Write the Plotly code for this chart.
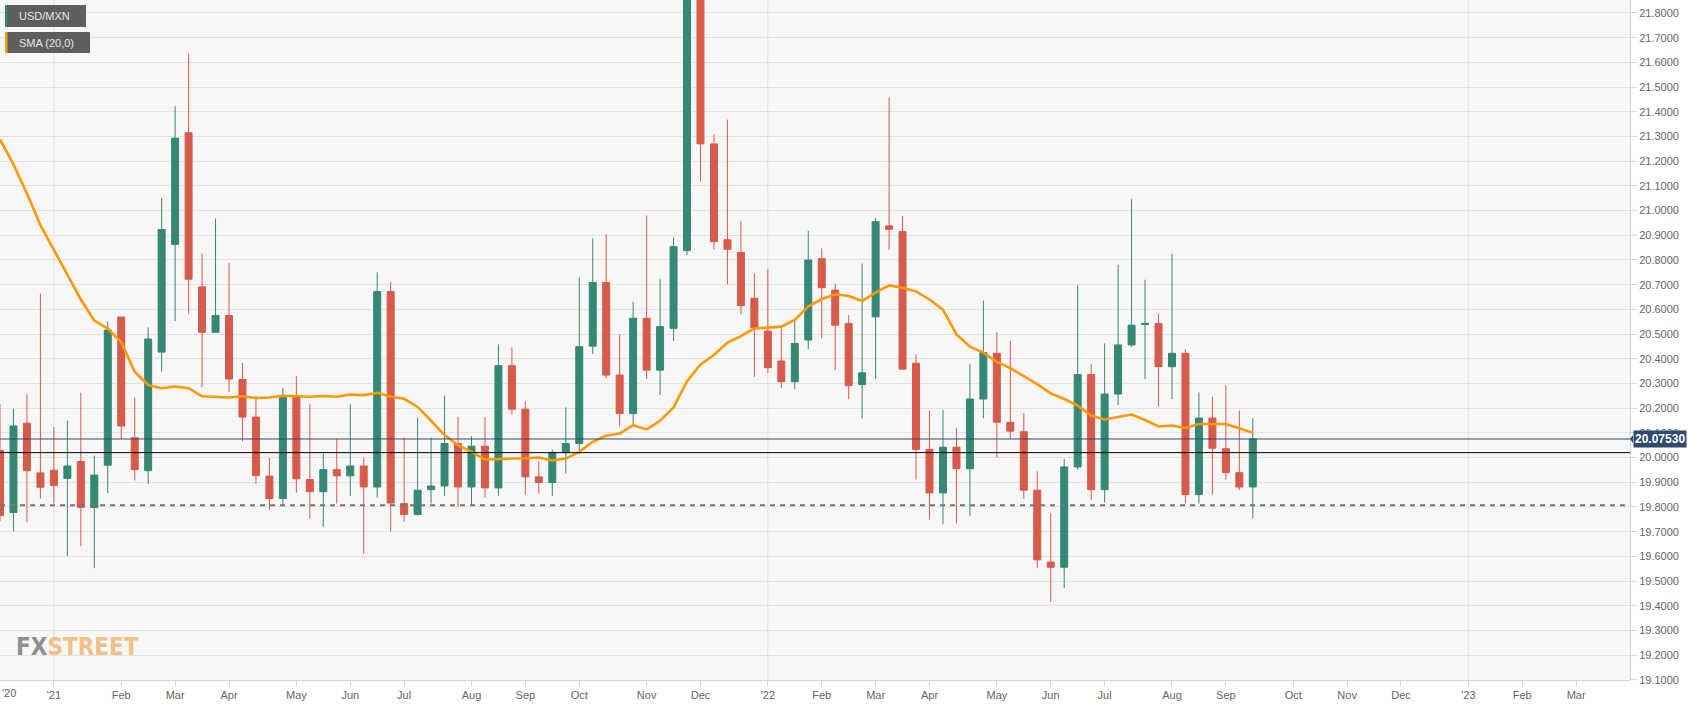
import pandas as pd
import plotly.graph_objects as go

# weekly USD/MXN candles (week-ending Fridays)
opens = [
    20.029, 19.778, 20.139, 19.938, 19.949, 19.916, 19.984, 19.798, 19.969, 20.569,
    20.080, 19.947, 20.427, 20.863, 21.315, 20.691, 20.507, 20.575, 20.316, 20.164,
    19.925, 19.834, 20.247, 19.911, 19.862, 19.951, 19.926, 19.966, 19.881, 20.672,
    19.814, 19.770, 19.870, 19.885, 20.057, 19.881, 20.046, 19.877, 20.372, 20.196,
    19.922, 19.899, 20.020, 20.057, 20.451, 20.709, 20.334, 20.178, 20.564, 20.354,
    20.523, 20.838, 21.950, 21.270, 20.882, 20.830, 20.645, 20.512, 20.391, 20.307,
    20.476, 20.805, 20.678, 20.543, 20.296, 20.570, 20.938, 20.915, 20.382, 20.033,
    19.857, 20.042, 19.955, 20.237, 20.422, 20.143, 20.105, 19.868, 19.577, 19.556,
    19.962, 20.336, 19.870, 20.257, 20.456, 20.539, 20.543, 20.368, 20.422, 19.850,
    20.160, 20.036, 19.939, 19.881,
]
highs = [
    20.217, 20.197, 20.257, 20.664, 20.124, 20.150, 20.263, 20.008, 20.551, 20.569,
    20.243, 20.527, 21.051, 21.423, 21.636, 20.826, 20.968, 20.788, 20.383, 20.248,
    19.998, 20.281, 20.330, 20.216, 20.016, 20.076, 20.216, 20.000, 20.750, 20.712,
    20.081, 20.162, 20.081, 20.251, 20.165, 20.086, 20.165, 20.458, 20.446, 20.228,
    19.985, 20.032, 20.203, 20.730, 20.888, 20.904, 20.499, 20.631, 20.980, 20.722,
    20.891, 22.150, 22.050, 21.309, 21.368, 20.958, 20.746, 20.764, 20.523, 20.557,
    20.918, 20.847, 20.705, 20.577, 20.786, 20.970, 21.458, 20.978, 20.418, 20.190,
    20.193, 20.120, 20.378, 20.636, 20.508, 20.472, 20.181, 19.944, 19.774, 19.995,
    20.696, 20.378, 20.462, 20.781, 21.046, 20.720, 20.583, 20.825, 20.438, 20.264,
    20.246, 20.293, 20.190, 20.160,
]
lows = [
    19.743, 19.701, 19.738, 19.834, 19.814, 19.601, 19.641, 19.552, 19.856, 20.075,
    19.907, 19.893, 20.348, 20.553, 20.584, 20.285, 20.507, 20.266, 20.066, 19.893,
    19.789, 19.801, 19.858, 19.753, 19.720, 19.814, 19.845, 19.610, 19.838, 19.700,
    19.740, 19.765, 19.814, 19.845, 19.800, 19.807, 19.838, 19.845, 20.174, 19.850,
    19.854, 19.845, 19.935, 20.014, 20.419, 20.320, 20.127, 20.134, 20.318, 20.253,
    20.472, 20.820, 21.118, 20.843, 20.701, 20.580, 20.327, 20.343, 20.282, 20.276,
    20.438, 20.482, 20.354, 20.236, 20.158, 20.318, 20.841, 20.355, 19.911, 19.750,
    19.730, 19.734, 19.764, 20.159, 20.000, 20.076, 19.832, 19.552, 19.415, 19.472,
    19.951, 19.828, 19.818, 20.213, 20.449, 20.317, 20.206, 20.237, 19.814, 19.814,
    19.850, 19.911, 19.868, 19.754,
]
closes = [
    19.765, 20.128, 19.947, 19.880, 19.887, 19.966, 19.798, 19.929, 20.516, 20.128,
    19.951, 20.480, 20.923, 21.293, 20.722, 20.507, 20.575, 20.318, 20.164, 19.927,
    19.834, 20.248, 19.914, 19.862, 19.951, 19.926, 19.966, 19.881, 20.672, 19.816,
    19.770, 19.868, 19.885, 20.057, 19.881, 20.046, 19.877, 20.372, 20.196, 19.922,
    19.899, 20.020, 20.057, 20.449, 20.709, 20.334, 20.178, 20.564, 20.354, 20.530,
    20.854, 21.950, 21.270, 20.874, 20.843, 20.615, 20.526, 20.364, 20.307, 20.462,
    20.800, 20.688, 20.536, 20.291, 20.343, 20.955, 20.924, 20.358, 20.033, 19.857,
    20.042, 19.955, 20.237, 20.425, 20.143, 20.107, 19.868, 19.586, 19.556, 19.962,
    20.336, 19.870, 20.257, 20.456, 20.536, 20.543, 20.368, 20.422, 19.850, 20.160,
    20.038, 19.939, 19.881, 20.0753,
]
sma20 = [
    21.288, 21.187, 21.069, 20.941, 20.841, 20.741, 20.640, 20.555, 20.522, 20.467,
    20.348, 20.294, 20.281, 20.288, 20.281, 20.248, 20.246, 20.243, 20.248, 20.241,
    20.243, 20.250, 20.248, 20.246, 20.249, 20.246, 20.255, 20.253, 20.262, 20.246,
    20.238, 20.205, 20.149, 20.091, 20.050, 20.023, 19.992, 19.995, 19.996, 19.997,
    20.000, 19.988, 19.996, 20.023, 20.064, 20.088, 20.097, 20.131, 20.114, 20.149,
    20.203, 20.309, 20.377, 20.415, 20.466, 20.492, 20.523, 20.526, 20.530, 20.557,
    20.611, 20.642, 20.661, 20.654, 20.634, 20.668, 20.697, 20.687, 20.673, 20.640,
    20.599, 20.499, 20.449, 20.425, 20.387, 20.362, 20.331, 20.297, 20.260, 20.237,
    20.210, 20.170, 20.154, 20.163, 20.174, 20.152, 20.126, 20.130, 20.120, 20.136,
    20.136, 20.136, 20.119, 20.100,
]
weeks = pd.date_range("2020-12-04", periods=len(closes), freq="W-FRI")

tick_dates = [
    "2021-01-01", "2021-02-05", "2021-03-05", "2021-04-02", "2021-05-07", "2021-06-04",
    "2021-07-02", "2021-08-06", "2021-09-03", "2021-10-01", "2021-11-05", "2021-12-03",
    "2022-01-07", "2022-02-04", "2022-03-04", "2022-04-01", "2022-05-06", "2022-06-03",
    "2022-07-01", "2022-08-05", "2022-09-02", "2022-10-07", "2022-11-04", "2022-12-02",
    "2023-01-06", "2023-02-03", "2023-03-03",
]
tick_text = [
    "'21", "Feb", "Mar", "Apr", "May", "Jun", "Jul", "Aug", "Sep", "Oct", "Nov", "Dec",
    "'22", "Feb", "Mar", "Apr", "May", "Jun", "Jul", "Aug", "Sep", "Oct", "Nov", "Dec",
    "'23", "Feb", "Mar",
]
year_lines = ["2021-01-01", "2022-01-07", "2023-01-06"]

last_price = 20.0753
support_solid = 20.02
support_dashed = 19.807

GREEN = "#358873"
RED = "#d65b4b"
ORANGE = "#ff9800"
NAVY = "#2e4a6e"
AXIS = "#ccd6eb"

PW, PH = 1630, 680  # plot area in px


def px(x):
    return x / PW


def py(y):
    return 1 - y / PH


fig = go.Figure()

fig.add_trace(go.Candlestick(
    x=weeks, open=opens, high=highs, low=lows, close=closes,
    increasing=dict(fillcolor=GREEN, line=dict(color=GREEN, width=1)),
    decreasing=dict(fillcolor=RED, line=dict(color=RED, width=1)),
    whiskerwidth=0,
    showlegend=False,
    name="USD/MXN",
))

fig.add_trace(go.Scatter(
    x=weeks, y=sma20, mode="lines",
    line=dict(color=ORANGE, width=2.6),
    showlegend=False, name="SMA (20,0)",
))

shapes = []
# vertical year gridlines
for d in year_lines:
    shapes.append(dict(type="line", xref="x", yref="paper", x0=d, x1=d, y0=0, y1=1,
                       line=dict(color="#e2e2e2", width=1), layer="below"))
# horizontal levels
shapes.append(dict(type="line", xref="paper", yref="y", x0=0, x1=1,
                   y0=support_dashed, y1=support_dashed,
                   line=dict(color="#777777", width=2, dash="5px,5px")))
shapes.append(dict(type="line", xref="paper", yref="y", x0=0, x1=1,
                   y0=support_solid, y1=support_solid,
                   line=dict(color="#000000", width=1)))
shapes.append(dict(type="line", xref="paper", yref="y", x0=0, x1=1,
                   y0=last_price, y1=last_price,
                   line=dict(color=NAVY, width=1)))
# price tag pointer
dx = 3 / PW
dy = 4 / 247
shapes.append(dict(type="path", xref="paper", yref="y",
                   path=f"M 1 {last_price} L {1 + dx} {last_price + dy} L {1 + dx} {last_price - dy} Z",
                   fillcolor=NAVY, line=dict(width=0)))
# legend boxes
for (x1, y0, y1, stripe) in [(86, 5, 27, GREEN), (90, 32, 53, ORANGE)]:
    shapes.append(dict(type="rect", xref="paper", yref="paper",
                       x0=px(5), x1=px(x1), y0=py(y1), y1=py(y0),
                       fillcolor="#5e5e5e", line=dict(width=0)))
    shapes.append(dict(type="rect", xref="paper", yref="paper",
                       x0=px(5), x1=px(7.5), y0=py(y1), y1=py(y0),
                       fillcolor=stripe, line=dict(width=0)))

annotations = [
    dict(xref="paper", yref="paper", x=px(17), y=py(16), text="USD/MXN",
         showarrow=False, xanchor="left", yanchor="middle",
         font=dict(family="Liberation Sans, Arial", size=11, color="#e6e6e6")),
    dict(xref="paper", yref="paper", x=px(17), y=py(42.5), text="SMA (20,0)",
         showarrow=False, xanchor="left", yanchor="middle",
         font=dict(family="Liberation Sans, Arial", size=11, color="#e6e6e6")),
    dict(xref="paper", yref="paper", x=px(14), y=py(647),
         text="<b><span style='color:#8e8e93'>FX</span><span style='color:#f2c187'>STREET</span></b>",
         showarrow=False, xanchor="left", yanchor="middle",
         font=dict(family="DejaVu Sans Condensed, Liberation Sans Narrow", size=24)),
    dict(xref="paper", yref="y", x=1 + dx, y=last_price, text="<b>20.07530</b>",
         showarrow=False, xanchor="left", yanchor="middle",
         bgcolor=NAVY, borderpad=1,
         font=dict(family="Liberation Sans, Arial", size=12, color="white")),
    dict(xref="paper", yref="paper", x=0, y=py(693), text="'20",
         showarrow=False, xanchor="left", yanchor="middle",
         font=dict(family="Liberation Sans, Arial", size=11, color="#666666")),
]

fig.update_layout(
    width=1707, height=706,
    margin=dict(l=0, r=77, t=0, b=26, autoexpand=False),
    paper_bgcolor="white",
    plot_bgcolor="#f7f7f7",
    boxgap=0.26,
    shapes=shapes,
    annotations=annotations,
    hovermode=False,
    xaxis=dict(
        type="date",
        range=["2020-12-04", "2023-03-31"],
        rangeslider=dict(visible=False),
        tickmode="array", tickvals=tick_dates, ticktext=tick_text,
        ticks="outside", ticklen=5, tickcolor=AXIS,
        tickfont=dict(family="Liberation Sans, Arial", size=11, color="#666666"),
        showgrid=False, zeroline=False,
        showline=True, linecolor=AXIS, linewidth=1, mirror=True,
    ),
    yaxis=dict(
        side="right",
        range=[19.0995, 21.8525],
        tick0=19.1, dtick=0.1, tickformat=".4f",
        ticks="outside", ticklen=6, tickcolor=AXIS,
        tickfont=dict(family="Liberation Sans, Arial", size=11, color="#666666"),
        showgrid=True, gridcolor="#e3e3e3", gridwidth=1,
        zeroline=False,
        showline=True, linecolor=AXIS, linewidth=1, mirror=True,
    ),
)

fig.write_html("out.html", config={"displayModeBar": False},
               post_script="document.body.style.margin='0';")
